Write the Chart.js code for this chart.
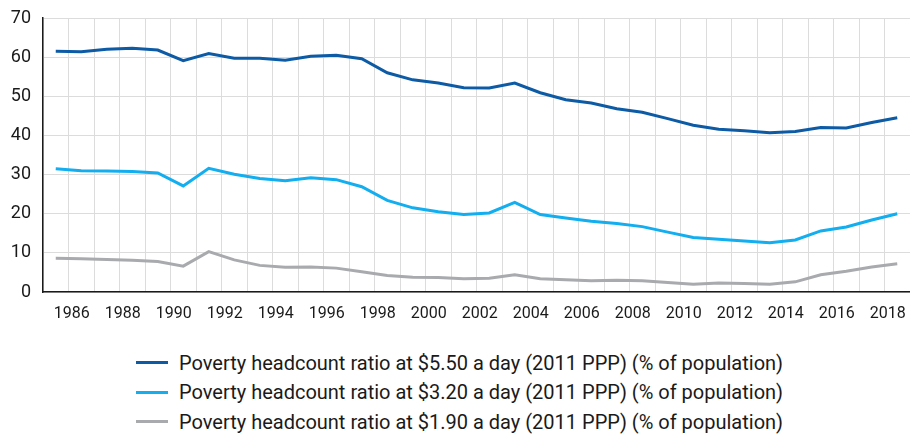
<!DOCTYPE html>
<html>
<head>
<meta charset="utf-8">
<script src="https://cdn.jsdelivr.net/npm/chart.js@4.4.1/dist/chart.umd.min.js"></script>
<style>
  html, body { margin: 0; padding: 0; background: #fff; }
  #wrap { position: relative; width: 910px; height: 434px; }
  #chartBox { position: absolute; left: 0; top: 0; width: 910px; height: 330px; }
  #legend {
    position: absolute; left: 136px; top: 348px;
    font-family: "Roboto", sans-serif;
    font-size: 20px; color: #1a1a1a;
  }
  .item { display: flex; align-items: center; height: 29.5px; white-space: nowrap; }
  .swatch { width: 32px; height: 3px; margin-right: 11px; flex: none; }
</style>
</head>
<body>
<div id="wrap">
  <div id="chartBox"><canvas id="povertyChart"></canvas></div>
  <div id="legend"></div>
</div>
<script>
// Years on the x axis
const years = [
  '1985', '1986', '1987', '1988', '1989', '1990', '1991', '1992', '1993', '1994',
  '1995', '1996', '1997', '1998', '1999', '2000', '2001', '2002', '2003', '2004',
  '2005', '2006', '2007', '2008', '2009', '2010', '2011', '2012', '2013', '2014',
  '2015', '2016', '2017', '2018'
];

// Poverty headcount ratio at $5.50 a day
const ratio550 = [
  61.5, 61.4, 62.0, 62.3, 61.8, 59.1, 60.9, 59.7, 59.7, 59.2,
  60.2, 60.5, 59.6, 56.0, 54.2, 53.4, 52.2, 52.1, 53.4, 50.9,
  49.1, 48.3, 46.8, 45.9, 44.3, 42.6, 41.6, 41.2, 40.7, 41.0,
  42.0, 41.9, 43.3, 44.5
];

// Poverty headcount ratio at $3.20 a day
const ratio320 = [
  31.5, 31.0, 30.9, 30.8, 30.4, 27.1, 31.6, 30.1, 29.0, 28.4,
  29.2, 28.7, 26.9, 23.4, 21.5, 20.5, 19.8, 20.2, 22.9, 19.8,
  18.9, 18.1, 17.5, 16.7, 15.3, 13.9, 13.5, 13.0, 12.6, 13.3,
  15.6, 16.6, 18.4, 20.0
];

// Poverty headcount ratio at $1.90 a day
const ratio190 = [
  8.6, 8.5, 8.3, 8.1, 7.8, 6.6, 10.3, 8.2, 6.8, 6.3,
  6.4, 6.1, 5.2, 4.2, 3.8, 3.7, 3.4, 3.5, 4.4, 3.4,
  3.1, 2.9, 3.0, 2.9, 2.4, 2.0, 2.3, 2.2, 2.0, 2.6,
  4.4, 5.3, 6.4, 7.2
];

const seriesLabels = [
  'Poverty headcount ratio at $5.50 a day (2011 PPP) (% of population)',
  'Poverty headcount ratio at $3.20 a day (2011 PPP) (% of population)',
  'Poverty headcount ratio at $1.90 a day (2011 PPP) (% of population)'
];

const yTicks = [0, 10, 20, 30, 40, 50, 60, 70];

const colors = ['#0d5ba5', '#12aeef', '#a9aaad'];

const makeSet = (label, data, color) => ({
    label: label,
    data: data,
    borderColor: color,
    backgroundColor: color,
    borderWidth: 3,
    pointRadius: 0,
    tension: 0,
    fill: false
});

const ctx = document.getElementById('povertyChart').getContext('2d');

const chart = new Chart(ctx, {
    type: 'line',
    data: {
        labels: years,
        datasets: [
            makeSet(seriesLabels[0], ratio550, colors[0]),
            makeSet(seriesLabels[1], ratio320, colors[1]),
            makeSet(seriesLabels[2], ratio190, colors[2])
        ]
    },
    options: {
        responsive: true,
        maintainAspectRatio: false,
        animation: false,
        layout: { padding: { top: 18, right: 0, left: 0, bottom: 0 } },
        plugins: {
            legend: { display: false },
            tooltip: { enabled: false }
        },
        scales: {
            x: {
                type: 'category',
                offset: true,
                grid: { offset: true, color: '#dcdcdc', lineWidth: 1, drawTicks: false },
                border: { display: true, color: '#1a1a1a', width: 1.5 },
                ticks: {
                    autoSkip: false,
                    maxRotation: 0,
                    padding: 12,
                    labelOffset: -9.5,
                    color: '#1a1a1a',
                    font: { family: 'Roboto', size: 16 },
                    callback: function (value) {
                        const year = this.getLabelForValue(value);
                        return Number(year) % 2 === 0 ? year : '';
                    }
                },
                afterFit: (scale) => {
                    scale.paddingLeft = 0;
                    scale.paddingRight = 0;
                    scale.height = 38;
                }
            },
            y: {
                min: yTicks[0],
                max: yTicks[yTicks.length - 1],
                grid: { color: '#dcdcdc', lineWidth: 1, drawTicks: false },
                border: { display: true, color: '#1a1a1a', width: 1.5 },
                afterBuildTicks: (scale) => {
                    scale.ticks = yTicks.map(v => ({ value: v }));
                },
                ticks: {
                    padding: 12,
                    color: '#1a1a1a',
                    font: { family: 'Roboto', size: 18 }
                },
                afterFit: (scale) => {
                    scale.width = 43;
                    scale.paddingTop = 0;
                    scale.paddingBottom = 0;
                }
            }
        }
    }
});

// Legend below the chart, built from the datasets
const legendEl = document.getElementById('legend');
chart.data.datasets.forEach(ds => {
    const row = document.createElement('div');
    row.className = 'item';
    const sw = document.createElement('span');
    sw.className = 'swatch';
    sw.style.background = ds.borderColor;
    const txt = document.createElement('span');
    txt.textContent = ds.label;
    row.appendChild(sw);
    row.appendChild(txt);
    legendEl.appendChild(row);
});
</script>
</body>
</html>
